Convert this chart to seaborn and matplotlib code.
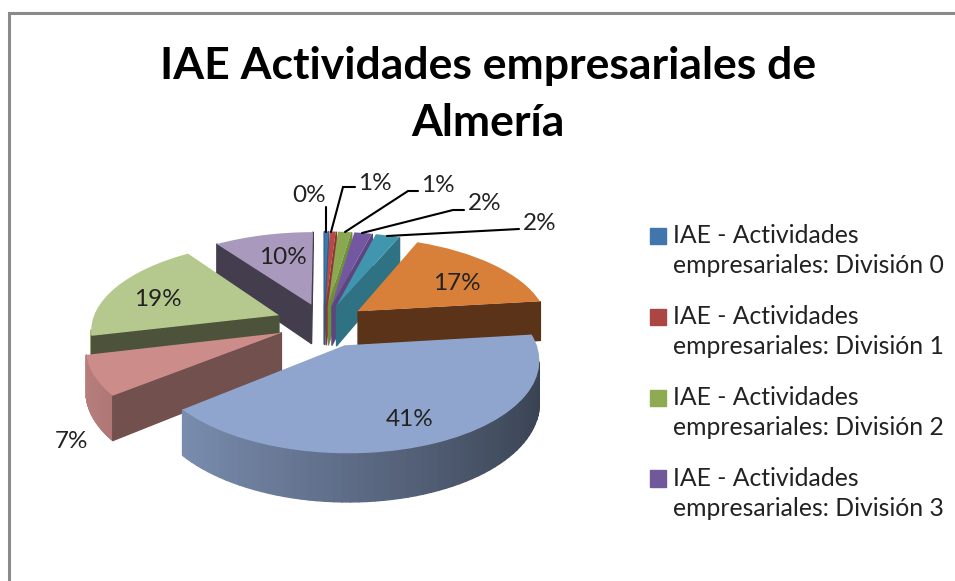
import numpy as np
import matplotlib
matplotlib.use("Agg")
import matplotlib.pyplot as plt
import seaborn as sns
from matplotlib.collections import PolyCollection
from matplotlib.legend_handler import HandlerPatch
from matplotlib.patches import Patch, Rectangle
from matplotlib.transforms import Transform

# ---------- data ----------
title_lines = ["IAE Actividades empresariales de", "Almería"]
divisions = ["División 0", "División 1", "División 2", "División 3", "División 4",
             "División 5", "División 6", "División 7", "División 8", "División 9"]
shares = [0.4, 0.6, 1.3, 1.7, 2.3, 16.8, 41.0, 7.1, 19.0, 9.8]
legend_count = 4

# ---------- style ----------
top_colors = ["#3f78ae", "#b84a46", "#8aa84f", "#7357a0", "#3f96ae",
              "#d8803a", "#8fa5cd", "#cc8c8a", "#b5c98e", "#a99abd"]
cut_colors = ["#2f5a82", "#8a3735", "#6f8e3e", "#5d4680", "#2f7283",
              "#5a3318", "#3a4555", "#71504e", "#4d533a", "#443d4e"]
legend_colors = ["#4076ab", "#ab4643", "#8fab51", "#70589a"]
explosion = [0.2, 0.2, 0.2, 0.2, 0.2, 0.22, 0.26, 0.24, 0.25, 0.22]
radius_scale = [1, 1, 1, 1, 1, 0.98, 0.95, 0.97, 0.96, 0.98]
CX, CY, SX, SY, PERSP, DEPTH = 324.0, 323.0, 195.0, 90.0, 0.15, 40.0
# label centre (px) and leader polyline (px) in slice order
label_xy = [(309, 196), (375, 183), (438, 186), (485, 203), (540, 224),
            (457, 283), (410, 419), (71, 442), (158, 299), (283, 258)]
leaders = [[(326, 232), (326, 207)],
           [(331, 232), (343, 187), (355, 187)],
           [(345, 232), (408, 191), (418, 191)],
           [(362, 233), (453, 210), (464, 210)],
           [(387, 236), (519, 229)]]

sns.set_theme(style="white")
plt.rcParams["font.family"] = ["Lato", "DejaVu Sans"]


class Perspective(Transform):
    """Tilted-plane projection from pie coordinates to picture pixels."""
    input_dims = output_dims = 2
    has_inverse = False
    is_separable = False

    def transform_non_affine(self, xy):
        xy = np.asarray(xy, float)
        w = 1 + PERSP * xy[:, 1]
        return np.column_stack((CX + SX * xy[:, 0] / w, CY - SY * xy[:, 1] / w))


persp = Perspective()


def drop(y):
    return DEPTH / (1 + PERSP * y)


def shoelace(q):
    x, y = q[:, 0], q[:, 1]
    return np.sum(x * np.roll(y, -1) - np.roll(x, -1) * y)


fig = plt.figure(figsize=(9.55, 5.81), dpi=100, facecolor="white")
ax = fig.add_axes([0, 0, 1, 1])
wedges, _ = ax.pie(shares, colors=sns.color_palette(top_colors, len(top_colors)),
                   explode=explosion, startangle=90,
                   counterclock=False, radius=1,
                   wedgeprops=dict(linewidth=0))
ax.set_aspect("auto")
ax.set_xlim(0, 955)
ax.set_ylim(581, 0)
ax.set_xticks([])
ax.set_yticks([])
ax.axis("off")

order = np.argsort([-w.center[1] for w in wedges])
rank = {int(i): r for r, i in enumerate(order)}

for i, w in enumerate(wedges):
    z = 2 + 2 * rank[i]
    w.set_radius(radius_scale[i])
    w.set_transform(persp + ax.transData)
    w.set_zorder(z + 1)
    w.set_clip_on(False)
    ang = np.radians(np.linspace(w.theta1, w.theta2, 70))
    cx, cy = w.center
    outline = np.column_stack((cx + w.r * np.cos(ang), cy + w.r * np.sin(ang)))
    apex = np.array([[cx, cy]])
    ring = np.vstack((apex, outline, apex))
    scr = persp.transform(ring)
    d = drop(ring[:, 1])
    low = scr + np.column_stack((np.zeros(len(d)), d))
    polys, cols = [], []
    base = np.array(matplotlib.colors.to_rgb(top_colors[i]))
    cut = matplotlib.colors.to_rgb(cut_colors[i])
    for j in range(len(ring) - 1):
        quad = np.array([scr[j], scr[j + 1], low[j + 1], low[j]])
        if shoelace(quad) <= 0:
            continue
        polys.append(quad)
        if j == 0 or j == len(ring) - 2:
            cols.append(cut)
        else:
            f = 0.655 - 0.255 * np.cos((ang[j - 1] + ang[j]) / 2)
            cols.append(tuple(np.clip(base * f, 0, 1)))
    ax.add_collection(PolyCollection(polys, facecolors=cols, edgecolors=cols,
                                     linewidths=1.0, zorder=z))

# percentage labels and leaders
for v, (x, y) in zip(shares, label_xy):
    ax.text(x, y, f"{round(v)}%", ha="center", va="center", fontsize=17.5,
            color="#222222", zorder=100)
for pts in leaders:
    p = np.array(pts)
    ax.plot(p[:, 0], p[:, 1], color="black", lw=1.5, zorder=99, solid_joinstyle="miter")

# title
for line, y in zip(title_lines, (66, 123)):
    ax.text(488, y, line, ha="center", va="center", fontsize=32, fontweight="bold",
            color="black", zorder=100)


# legend: swatch sits beside the first text line
def first_line_swatch(legend, orig_handle, xdescent, ydescent, width, height, fontsize):
    return Rectangle((-xdescent, -ydescent + 0.62 * fontsize), width, height)


handles = [Patch(facecolor=c, edgecolor=c) for c in legend_colors]
labels = [f"IAE - Actividades\nempresariales: {d}" for d in divisions[:legend_count]]
leg = ax.legend(handles, labels, loc="upper left",
                bbox_to_anchor=(650 / 955, 1 - 224 / 581),
                bbox_transform=fig.transFigure, frameon=False, fontsize=17.8,
                labelcolor="#222222", handlelength=0.65, handleheight=0.65,
                handletextpad=0.3, labelspacing=1.11, borderpad=0, borderaxespad=0,
                alignment="left",
                handler_map={Patch: HandlerPatch(patch_func=first_line_swatch)})
for t in leg.get_texts():
    t.set_linespacing(1.39)

# outer frame of the screenshot
ax.plot([9, 9, 955], [581, 13, 13], color="#8a8a8a", lw=2.2, zorder=1,
        solid_joinstyle="miter", clip_on=False)

fig.savefig("out.png", dpi=100)
